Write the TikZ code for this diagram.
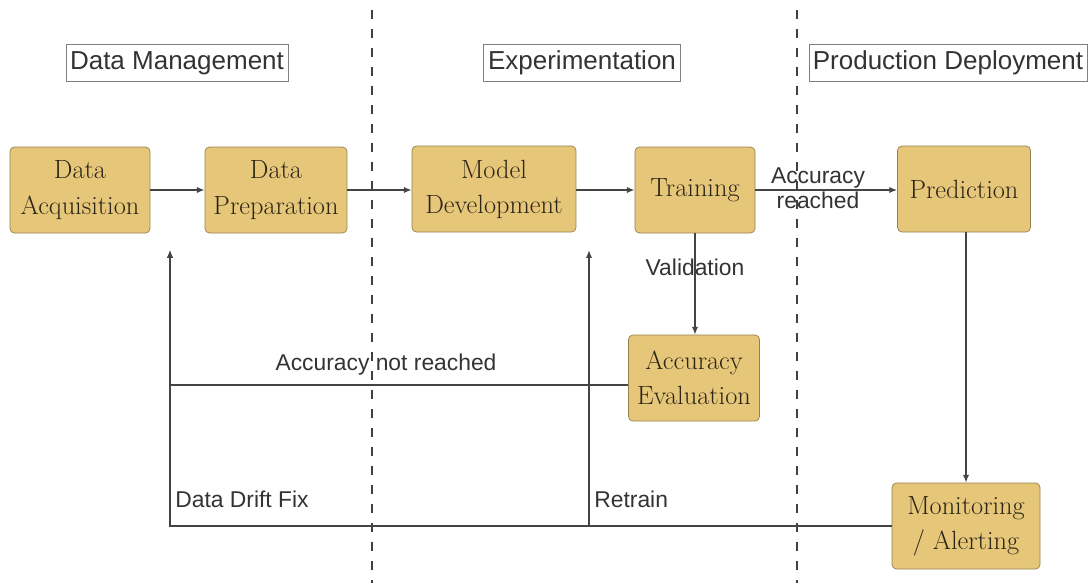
\documentclass[tikz,border=0pt]{standalone}
\usepackage{fontspec}
\newfontfamily\labelfont{Liberation Sans}
\usetikzlibrary{arrows.meta}
\definecolor{boxfill}{RGB}{230,199,122}
\definecolor{boxedge}{RGB}{150,128,78}
\definecolor{linegray}{RGB}{68,68,68}
\definecolor{textdark}{RGB}{45,38,22}
\begin{document}
\begin{tikzpicture}[x=0.02cm,y=-0.02cm,
		stage/.style={draw=boxedge,fill=boxfill,rounded corners=2.5pt,align=center,minimum height=1.72cm,inner sep=0pt,text=textdark,font=\fontsize{15}{20}\selectfont},
		phase/.style={draw=gray,line width=0.5pt,minimum height=0.74cm,inner sep=0pt,text=black!80,font=\labelfont\fontsize{14.8}{16}\selectfont},
		flow/.style={draw=linegray,line width=0.8pt,-{Latex[length=4.5pt,width=3.6pt]}},
		tag/.style={text=black!80,font=\labelfont\fontsize{13}{13.5}\selectfont,align=center,inner sep=0pt},
		divider/.style={draw=black!75,line width=0.8pt,dash pattern=on 0.18cm off 0.2cm}]
	\useasboundingbox (0,0) rectangle (1091,583);
	\draw[divider] (372,10) -- (372,583);
	\draw[divider] (797,10) -- (797,583);
	\node[phase,minimum width=4.44cm] (hdata) at (177,63) {Data Management};
	\node[phase,minimum width=3.94cm] (hexp) at (582,63) {Experimentation};
	\node[phase,minimum width=5.56cm] (hprod) at (948,63) {Production Deployment};
	\node[stage,minimum width=2.8cm] (acq) at (80,190) {Data\\Acquisition};
	\node[stage,minimum width=2.84cm] (prep) at (276,190) {Data\\Preparation};
	\node[stage,minimum width=3.28cm] (model) at (494,189) {Model\\Development};
	\node[stage,minimum width=2.4cm] (train) at (695,190) {Training};
	\node[stage,minimum width=2.66cm] (pred) at (964,189) {Prediction};
	\node[stage,minimum width=2.62cm] (acceval) at (694,378) {Accuracy\\Evaluation};
	\node[stage,minimum width=2.96cm] (monitor) at (966,526) {Monitoring\\/ Alerting};
	\coordinate (fixup) at (170,250);
	\coordinate (retrain) at (589,250);
	\coordinate (notreached) at (170,385);
	\draw[flow] (acq) -- (prep);
	\draw[flow] (prep.east) -- (prep.east -| model.west);
	\draw[flow] (model.east |- train.west) -- (train.west);
	\draw[flow] (train.east) -- (train.east -| pred.west);
	\draw[flow] (train.south) -- (train.south |- acceval.north);
	\draw[flow] (pred.south -| monitor.north) -- (monitor.north);
	\draw[flow] (acceval.west |- notreached) -- (notreached) -- (fixup);
	\draw[flow] (monitor.west) -- (monitor.west -| fixup) -- (fixup);
	\draw[flow] (monitor.west -| retrain) -- (retrain);
	\node[tag] (lreached) at (818,188) {Accuracy\\[1pt]reached};
	\node[tag] (lvalid) at (695,267) {Validation};
	\node[tag] (lnot) at (386,365) {Accuracy not reached};
	\node[tag,anchor=west] (ldrift) at (175,499) {Data Drift Fix};
	\node[tag,anchor=west] (lretrain) at (594,499) {Retrain};
\end{tikzpicture}
\end{document}
